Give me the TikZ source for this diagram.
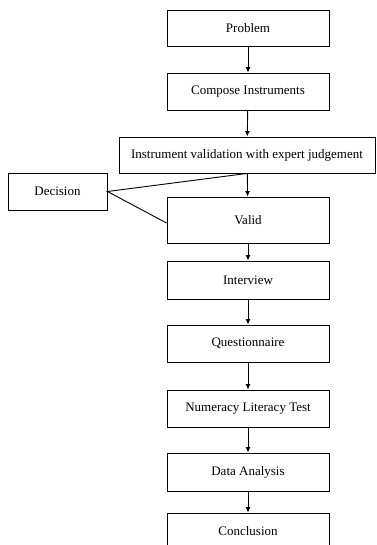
\documentclass[tikz,border=0pt]{standalone}
\usepackage{fontspec}
\setmainfont{Liberation Serif}
\usetikzlibrary{arrows.meta}
\tikzset{
  stepbox/.style={draw, line width=0.9pt, minimum width=162pt, minimum height=37pt, inner sep=0pt, font=\fontsize{13}{15}\selectfont},
  flow/.style={line width=0.9pt, -{Latex[length=5.5pt,width=5pt]}},
  link/.style={line width=0.9pt}
}
\begin{document}
\begin{tikzpicture}[x=1pt,y=-1pt]
  \useasboundingbox (0,0) rectangle (376,545);
  \clip (0,0) rectangle (376,545);

  % main column
  \node[stepbox, minimum height=36pt] (prob) at (248,28) {Problem};
  \node[stepbox] (comp) at (248,91.5) {Compose Instruments};
  \node[stepbox, minimum width=256pt, minimum height=36pt] (expert) at (247,155) {Instrument validation with expert judgement};
  \node[stepbox, minimum height=46pt] (valid) at (248,220) {Valid};
  \node[stepbox, minimum height=38pt] (interv) at (248,280) {Interview};
  \node[stepbox] (quest) at (248,343.5) {Questionnaire};
  \node[stepbox] (numlit) at (248,408.5) {Numeracy Literacy Test};
  \node[stepbox, minimum height=38pt] (analysis) at (248,472) {Data Analysis};
  \node[stepbox] (concl) at (248,531.5) {Conclusion};

  % side box
  \node[stepbox, minimum width=99pt] (dec) at (57.5,191.5) {Decision};

  % arrows
  \draw[flow] (prob) -- (comp);
  \draw[flow] (comp) -- (expert);
  \draw[flow] (expert) -- (valid);
  \draw[flow] (valid) -- (interv);
  \draw[flow] (interv) -- (quest);
  \draw[flow] (quest) -- (numlit);
  \draw[flow] (numlit) -- (analysis);
  \draw[flow] (analysis) -- (concl);

  % decision links
  \draw[link] (expert.south) -- (dec.east) -- ([yshift=-3pt]valid.west);
\end{tikzpicture}
\end{document}
